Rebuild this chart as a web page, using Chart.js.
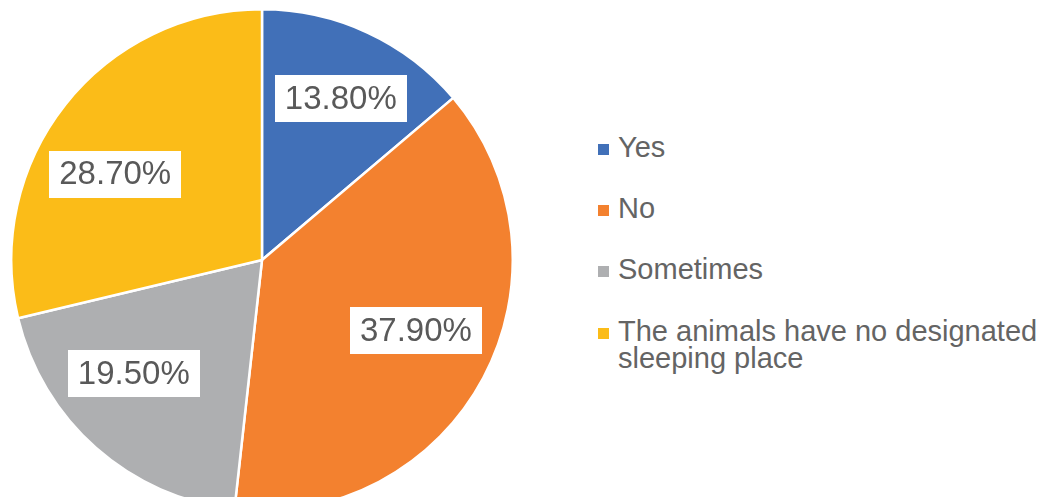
<!DOCTYPE html>
<html>
<head>
<meta charset="utf-8">
<script src="https://cdn.jsdelivr.net/npm/chart.js@4"></script>
<style>
  html, body { margin: 0; padding: 0; background: #fff; overflow: hidden; width: 1045px; height: 497px; }
  #pieBox { position: absolute; left: 10px; top: 8px; width: 504px; height: 504px; }
  #legend { position: absolute; left: 598px; top: 0; font-family: "Liberation Sans", Arial, sans-serif; font-size: 29px; color: #646464; }
  .item { position: absolute; left: 0; white-space: nowrap; line-height: 27px; }
  .item span.sw { position: absolute; left: 0; top: 10px; width: 11px; height: 11px; }
  .item span.tx { display: block; margin-left: 20px; }
</style>
</head>
<body>
<div id="pieBox"><canvas id="chart1"></canvas></div>
<div id="legend"></div>
<script>
// Data
const categories = ['Yes', 'No', 'Sometimes', 'The animals have no designated\nsleeping place']
const shares = [13.8, 37.9, 19.5, 28.7]
const colors = ['#4170B8', '#F3812F', '#AEAFB1', '#FBBC18']

// white boxes with the percentage, placed around the slice middle
const boxLabels = {
    id: 'boxLabels',
    afterDatasetsDraw(chart, args, opts) {
        const ctx = chart.ctx
        const arcs = chart.getDatasetMeta(0).data
        ctx.save()
        ctx.font = '33px "Liberation Sans", Arial, sans-serif'
        ctx.textAlign = 'center'
        ctx.textBaseline = 'middle'
        arcs.forEach((arc, i) => {
            const mid = (arc.startAngle + arc.endAngle) / 2
            const r = arc.outerRadius * opts.radius
            const nudge = opts.nudge[i] || [0, 0]
            const x = arc.x + Math.cos(mid) * r + nudge[0]
            const y = arc.y + Math.sin(mid) * r + nudge[1]
            const txt = shares[i].toFixed(2) + '%'
            const w = ctx.measureText(txt).width + 20
            const h = 47
            ctx.fillStyle = '#fff'
            ctx.fillRect(Math.round(x - w / 2), Math.round(y - h / 2), Math.round(w), h)
            ctx.fillStyle = '#595959'
            ctx.fillText(txt, x, y + 1)
        })
        ctx.restore()
    }
}

const chart = new Chart(document.getElementById('chart1'), {
    type: 'pie',
    data: {
        labels: categories,
        datasets: [{
            data: shares,
            backgroundColor: colors,
            borderColor: '#fff',
            borderWidth: 2.5
        }]
    },
    options: {
        responsive: true,
        maintainAspectRatio: false,
        animation: false,
        layout: { padding: 0 },
        plugins: {
            legend: { display: false },
            tooltip: { enabled: false },
            boxLabels: {
                radius: 0.7,
                nudge: [[5, -2], [-1, -12], [-12, -18], [-9, 23]]
            }
        }
    },
    plugins: [boxLabels]
})

// Legend on the right
const legend = document.getElementById('legend')
const rowTops = [134, 195, 256, 318]
categories.forEach((c, i) => {
    const item = document.createElement('div')
    item.className = 'item'
    item.style.top = rowTops[i] + 'px'
    const sw = document.createElement('span')
    sw.className = 'sw'
    sw.style.background = colors[i]
    const tx = document.createElement('span')
    tx.className = 'tx'
    tx.innerHTML = c.split('\n').join('<br>')
    item.appendChild(sw)
    item.appendChild(tx)
    legend.appendChild(item)
})
</script>
</body>
</html>
